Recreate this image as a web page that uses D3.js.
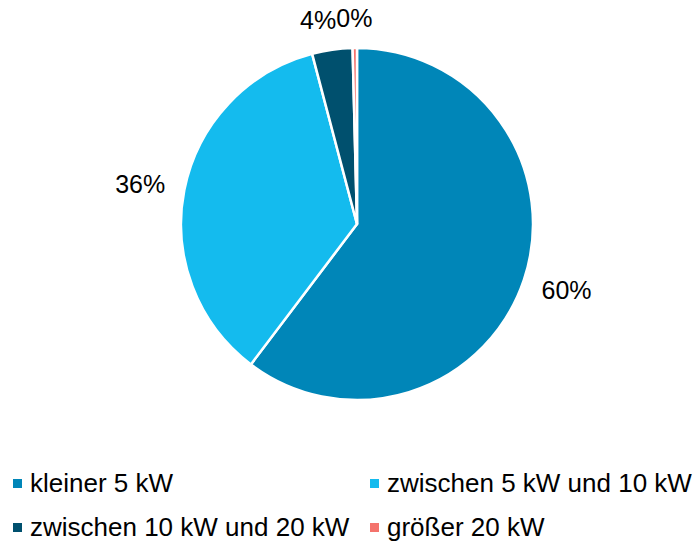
<!DOCTYPE html>
<html>
<head>
<meta charset="utf-8">
<script src="https://cdn.jsdelivr.net/npm/d3@7"></script>
<style>
  body { margin: 0; background: #fff; }
  svg { display: block; font-family: "Liberation Sans", Arial, sans-serif; }
</style>
</head>
<body>
<div id="chart"></div>
<script>
// Data
const categories = ["kleiner 5 kW", "zwischen 5 kW und 10 kW", "zwischen 10 kW und 20 kW", "größer 20 kW"];
const shares = [60.3, 35.6, 3.7, 0.4];
const labels = ["60%", "36%", "4%", "0%"];
const colours = ["#0086B8", "#14BBEE", "#00506E", "#F4736C"];

const width = 699;
const height = 541;
const cx = 357;
const cy = 224;
const radius = 176;
const labelGap = 20;
const labelSize = 25;
const legendSize = 26;

const data = categories.map((name, i) => ({ name, value: shares[i], label: labels[i], colour: colours[i] }));

const svg = d3.select("#chart").append("svg")
  .attr("width", width)
  .attr("height", height);

const pie = d3.pie().sort(null).value((d) => d.value);
const arc = d3.arc().innerRadius(0).outerRadius(radius);
const arcs = pie(data);

const g = svg.append("g").attr("transform", `translate(${cx},${cy})`);

g.selectAll("path")
  .data(arcs)
  .join("path")
  .attr("d", arc)
  .attr("fill", (d) => d.data.colour)
  .attr("stroke", "#fff")
  .attr("stroke-width", 2.5)
  .attr("stroke-linejoin", "round");

// Labels outside the pie: box edge sits labelGap beyond the rim
const labelText = g.selectAll("text.lbl")
  .data(arcs)
  .join("text")
  .attr("class", "lbl")
  .attr("font-size", labelSize)
  .attr("fill", "#000")
  .attr("text-anchor", "middle")
  .attr("dominant-baseline", "central")
  .text((d) => d.data.label);

const boxes = [];
labelText.each(function (d) {
  const a = (d.startAngle + d.endAngle) / 2;
  const w = this.getComputedTextLength();
  const h = labelSize * 0.8;
  const r = radius + labelGap;
  boxes.push({
    node: this,
    w,
    x: Math.sin(a) * r + Math.sin(a) * w / 2,
    y: -Math.cos(a) * r - Math.cos(a) * h / 2,
  });
});

// Small slices at the top crowd together: push the earlier label left until they touch
for (let i = boxes.length - 2; i >= 0; i--) {
  const a = boxes[i], b = boxes[i + 1];
  if (Math.abs(a.y - b.y) < labelSize * 0.8) {
    const overlap = (a.x + a.w / 2) - (b.x - b.w / 2);
    if (overlap > 0 && a.x < b.x) a.x -= overlap;
  }
}
boxes.forEach((b) => d3.select(b.node).attr("x", b.x).attr("y", b.y));

// Legend, two columns
const legendCols = [13, 370];
const legendRows = [492, 536];
const legend = svg.append("g")
  .selectAll("g")
  .data(data)
  .join("g")
  .attr("transform", (d, i) => `translate(${legendCols[i % 2]},${legendRows[Math.floor(i / 2)]})`);

legend.append("rect")
  .attr("x", 0)
  .attr("y", -13)
  .attr("width", 9)
  .attr("height", 9)
  .attr("fill", (d) => d.colour);

legend.append("text")
  .attr("x", 17)
  .attr("y", 0)
  .attr("font-size", legendSize)
  .attr("fill", "#000")
  .text((d) => d.name);
</script>
</body>
</html>
